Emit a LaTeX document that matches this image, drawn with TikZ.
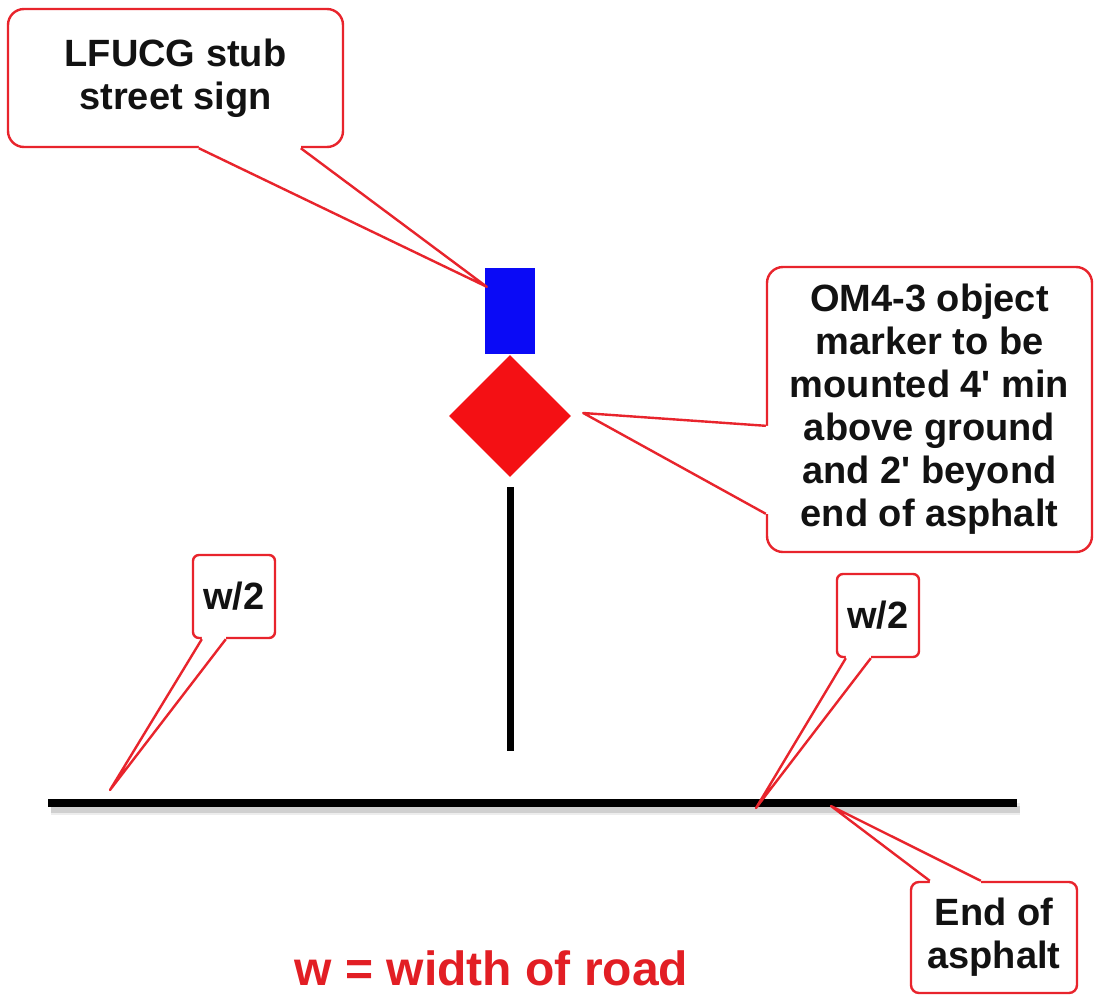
\documentclass[tikz,border=0pt]{standalone}
\usepackage{fontspec}
\setmainfont{Liberation Sans}
\usetikzlibrary{shapes.geometric,calc}

\definecolor{calred}{RGB}{232,36,44}
\definecolor{signblue}{RGB}{10,10,246}
\definecolor{markred}{RGB}{244,16,20}
\definecolor{ink}{RGB}{18,18,18}
\definecolor{notered}{RGB}{226,30,36}

\tikzset{
  callout/.style={draw=calred, line width=2.4pt, fill=white, inner sep=0pt,
    align=center, text=ink, font=\bfseries\fontsize{38}{43}\selectfont},
  tailline/.style={draw=calred, line width=2.4pt, line join=round},
  roadline/.style={line width=8pt, black},
}

% pointer of a callout: base points #1 and #2 on the box edge, tip #3,
% #4 = small shift into the box to hide the border between the base points
\newcommand\calloutTail[4]{%
  \fill[white] ($(#1)+(#4)$) -- (#1) -- (#3) -- (#2) -- ($(#2)+(#4)$) -- cycle;
  \draw[tailline] (#1) -- (#3) -- (#2);
}

\begin{document}
\begin{tikzpicture}[x=1pt,y=-1pt]
\useasboundingbox (0,0) rectangle (1094,996);
\fill[white] (0,0) rectangle (1094,996);

% ground line with a soft shadow
\coordinate (roadW) at (48,803);
\coordinate (roadE) at (1017,803);
\draw[line width=12pt, black, opacity=.07] ($(roadW)+(3,6)$) -- ($(roadE)+(3,6)$);
\draw[line width=7pt, black, opacity=.12] ($(roadW)+(3,6)$) -- ($(roadE)+(3,6)$);
\draw[roadline] (roadW) -- (roadE);

% post with street sign and object marker
\coordinate (poleTop) at (510,487);
\coordinate (poleFoot) at (510,751);
\draw[line width=7pt, black] (poleTop) -- (poleFoot);
\node[fill=signblue, minimum width=50pt, minimum height=86pt, inner sep=0pt] (sign) at (510,311) {};
\node[diamond, fill=markred, minimum width=122pt, minimum height=122pt, inner sep=0pt] (marker) at (510,416) {};

% callout boxes
\node[callout, rounded corners=16pt, minimum width=335pt, minimum height=138pt] (cs) at (175.5,78)
  {LFUCG stub\\street sign};
\node[callout, rounded corners=16pt, minimum width=325pt, minimum height=285pt] (cm) at (929.5,409.5)
  {OM4-3 object\\marker to be\\mounted 4\textquotesingle{} min\\above ground\\and 2\textquotesingle{} beyond\\end of asphalt};
\node[callout, rounded corners=6pt, minimum width=82pt, minimum height=83pt] (wl) at (234,596.5) {w/2};
\node[callout, rounded corners=6pt, minimum width=82pt, minimum height=83pt] (wr) at (878,615.5) {w/2};
\node[callout, rounded corners=8pt, minimum width=166pt, minimum height=111pt] (we) at (994,937.5) {End of\\asphalt};

% pointers
\coordinate (csA) at ($(cs.south west)+(192,0)$);
\coordinate (csB) at ($(cs.south west)+(294,0)$);
\coordinate (csT) at ($(sign.north west)+(2,19)$);
\calloutTail{csA}{csB}{csT}{0,-3}

\coordinate (cmA) at ($(cm.north west)+(0,160)$);
\coordinate (cmB) at ($(cm.north west)+(0,248)$);
\coordinate (cmT) at ($(marker.east)+(12,-3)$);
\calloutTail{cmA}{cmB}{cmT}{3,0}

\coordinate (wlA) at ($(wl.south west)+(10,0)$);
\coordinate (wlB) at ($(wl.south west)+(34,0)$);
\coordinate (wlT) at ($(roadW)+(62,-13)$);
\calloutTail{wlA}{wlB}{wlT}{0,-3}

\coordinate (wrA) at ($(wr.south west)+(10,0)$);
\coordinate (wrB) at ($(wr.south west)+(35,0)$);
\coordinate (wrT) at ($(roadW)+(708,5)$);
\calloutTail{wrA}{wrB}{wrT}{0,-3}

\coordinate (weA) at ($(we.north west)+(20,0)$);
\coordinate (weB) at ($(we.north west)+(71,0)$);
\coordinate (weT) at ($(roadW)+(783,3)$);
\calloutTail{weA}{weB}{weT}{0,3}

% legend
\node[anchor=base, text=notered, font=\bfseries\fontsize{48}{54}\selectfont] (legend) at (491.5,985) {w = width of road};
\end{tikzpicture}
\end{document}
